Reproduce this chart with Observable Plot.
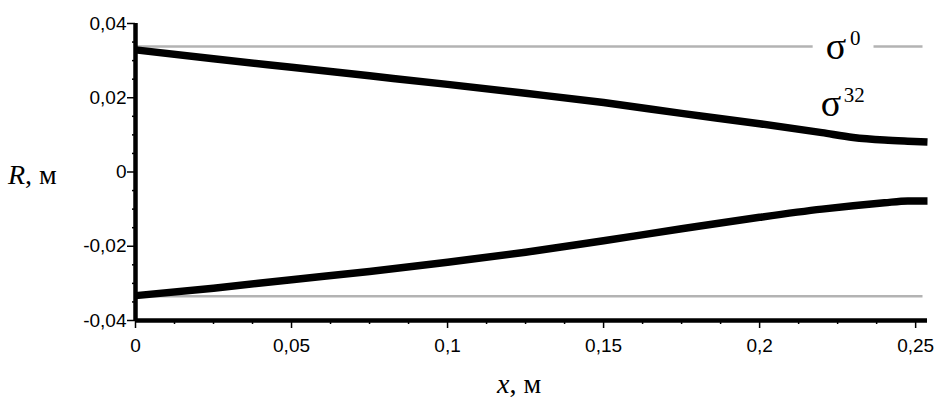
<!DOCTYPE html>
<html><head><meta charset="utf-8">
<script src="https://cdn.jsdelivr.net/npm/d3@7"></script>
<script src="https://cdn.jsdelivr.net/npm/@observablehq/plot@0.6"></script>
<style>
html,body{margin:0;padding:0;background:#fff;}
#chart svg{display:block}
#chart .serif, #chart .serif text, #chart .serif tspan { font-family: "Liberation Serif", "Times New Roman", serif !important; }
</style>
</head><body><div id="chart"></div>
<script>
// x, m
const xs    = [0, 0.025, 0.05, 0.075, 0.1, 0.125, 0.15, 0.175, 0.2, 0.22, 0.23, 0.24, 0.2475, 0.2538];
// sigma^32 boundary (upper and lower), m
const upper = [0.0329, 0.0305, 0.0282, 0.0259, 0.0236, 0.0212, 0.0187, 0.0158, 0.0130, 0.0106, 0.0093, 0.0086, 0.0083, 0.0081];
const lower = [-0.0333, -0.0313, -0.0290, -0.0268, -0.0243, -0.0216, -0.0185, -0.0153, -0.0122, -0.0100, -0.0091, -0.0083, -0.0078, -0.0078];
// sigma^0 boundary (constant), m
const sigma0Upper = 0.0338;
const sigma0Lower = -0.0335;
const sigma0XStart = 0;
const sigma0XEnd = 0.2522;
const sigma0Gap = [0.2170, 0.2365];

const xTicks = [0, 0.05, 0.1, 0.15, 0.2, 0.25];
const xTickLabels = ["0", "0,05", "0,1", "0,15", "0,2", "0,25"];
const xMinorTicks = [0.0125, 0.025, 0.0375, 0.0625, 0.075, 0.0875, 0.1125, 0.125, 0.1375, 0.1625, 0.175, 0.1875, 0.2125, 0.225, 0.2375];
const yTicks = [-0.04, -0.02, 0, 0.02, 0.04];
const yTickLabels = ["-0,04", "-0,02", "0", "0,02", "0,04"];
const yMinorTicks = [-0.035, -0.03, -0.025, -0.015, -0.01, -0.005, 0.005, 0.01, 0.015, 0.025, 0.03, 0.035];

const curves = xs.flatMap((x, i) => [
  {x, y: upper[i], side: "upper"},
  {x, y: lower[i], side: "lower"}
]);
const grayLines = [
  {x: sigma0XStart, y: sigma0Upper, seg: "a"}, {x: sigma0Gap[0], y: sigma0Upper, seg: "a"},
  {x: sigma0Gap[1], y: sigma0Upper, seg: "b"}, {x: sigma0XEnd, y: sigma0Upper, seg: "b"},
  {x: sigma0XStart, y: sigma0Lower, seg: "c"}, {x: sigma0XEnd, y: sigma0Lower, seg: "c"}
];
// annotation anchors (data units)
const sigmaLabels = [
  {x: 0.2212, y: 0.0305, text: "σ", sup: "0", sx: 0.2290, sy: 0.0343},
  {x: 0.2196, y: 0.0151, text: "σ", sup: "32", sx: 0.2270, sy: 0.0188}
];

const fmtX = d => xTickLabels[xTicks.indexOf(d)];
const fmtY = d => yTickLabels[yTicks.indexOf(d)];
const tickFont = "'Liberation Sans', Arial, sans-serif";
const serif = "'Liberation Serif', 'Times New Roman', serif";

const chart = Plot.plot({
  width: 945, height: 402,
  marginLeft: 135, marginRight: 18, marginTop: 23, marginBottom: 82,
  style: {fontFamily: tickFont, fontSize: "19px", color: "#000", background: "#fff"},
  x: {domain: [0, 0.2538], label: null},
  y: {domain: [-0.04, 0.04], label: null},
  marks: [
    Plot.line(grayLines, {x: "x", y: "y", z: "seg", stroke: "#b3b3b3", strokeWidth: 2.5, strokeLinecap: "butt"}),
    Plot.line(curves, {x: "x", y: "y", z: "side", stroke: "#000", strokeWidth: 7.5, curve: "monotone-x", strokeLinecap: "butt"}),
    Plot.text(sigmaLabels, {x: "x", y: "y", text: "text", textAnchor: "start", lineAnchor: "bottom", fontFamily: serif, fontSize: 38, fill: "#000", className: "serif"}),
    Plot.text(sigmaLabels, {x: "sx", y: "sy", text: "sup", textAnchor: "start", lineAnchor: "bottom", fontFamily: serif, fontSize: 21, fill: "#000", className: "serif"}),
    Plot.axisX(xTicks, {anchor: "bottom", tickSize: 8, tickPadding: 10, tickFormat: fmtX, strokeWidth: 1.5, fontSize: 19, label: null}),
    Plot.axisX(xMinorTicks, {anchor: "bottom", tickSize: 4, tickFormat: () => "", strokeWidth: 1.5, label: null}),
    Plot.axisY(yTicks, {anchor: "left", tickSize: 8, tickPadding: 1, tickFormat: fmtY, strokeWidth: 1.5, fontSize: 19, label: null}),
    Plot.axisY(yMinorTicks, {anchor: "left", tickSize: 3, tickFormat: () => "", strokeWidth: 1.5, label: null}),
    Plot.ruleX([0], {stroke: "#000", strokeWidth: 4.5}),
    Plot.ruleY([-0.04], {stroke: "#000", strokeWidth: 4.5, x1: 0, x2: 0.2538})
  ]
});

const svg = d3.select(chart);
const rt = svg.append("text").attr("class", "serif").attr("x", 8).attr("y", 184).attr("text-anchor", "start")
  .style("font-family", serif).attr("font-size", 28).attr("fill", "#000");
rt.append("tspan").attr("font-style", "italic").text("R");
rt.append("tspan").text(", м");
const xt = svg.append("text").attr("class", "serif").attr("x", 497).attr("y", 393).attr("text-anchor", "start")
  .style("font-family", serif).attr("font-size", 28).attr("fill", "#000");
xt.append("tspan").attr("font-style", "italic").text("x");
xt.append("tspan").text(", м");

document.getElementById("chart").appendChild(chart);
</script>
</body></html>
